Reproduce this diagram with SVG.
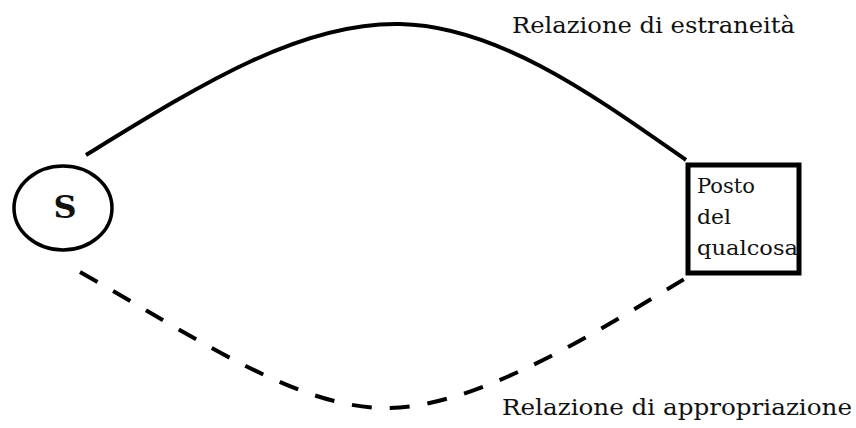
<svg xmlns="http://www.w3.org/2000/svg" width="856" height="428" viewBox="0 0 856 428">
<style>
.lbl{font-family:"DejaVu Serif","Liberation Serif",serif;fill:#111}
.conn{fill:none;stroke:#000;stroke-width:4}
</style>
<rect width="856" height="428" fill="#fff"/>
<g id="connectors">
<path class="conn" d="M86,155 C200,85 300,22 400,24 C500,26 600,100 686,160"/>
<path class="conn" d="M80,272 C200,340 300,410 390,408 C480,406 600,330 686,278" stroke-dasharray="20 18"/>
</g>
<g id="node-S">
<ellipse cx="63" cy="208" rx="49" ry="42" fill="#fff" stroke="#000" stroke-width="3.5"/>
<text class="lbl" x="65" y="218" text-anchor="middle" font-size="32" font-weight="bold">S</text>
</g>
<g id="node-posto">
<rect x="688" y="165" width="111" height="108" fill="#fff" stroke="#000" stroke-width="5"/>
<text class="lbl" x="697" y="193" font-size="20" textLength="58" lengthAdjust="spacingAndGlyphs">Posto</text>
<text class="lbl" x="697" y="224" font-size="20" textLength="34" lengthAdjust="spacingAndGlyphs">del</text>
<text class="lbl" x="697" y="255" font-size="20" textLength="101" lengthAdjust="spacingAndGlyphs">qualcosa</text>
</g>
<g id="label-estraneita">
<text class="lbl" x="512" y="33" font-size="23" textLength="283" lengthAdjust="spacingAndGlyphs">Relazione di estraneità</text>
</g>
<g id="label-appropriazione">
<text class="lbl" x="502" y="415" font-size="23" textLength="350" lengthAdjust="spacingAndGlyphs">Relazione di appropriazione</text>
</g>
</svg>
